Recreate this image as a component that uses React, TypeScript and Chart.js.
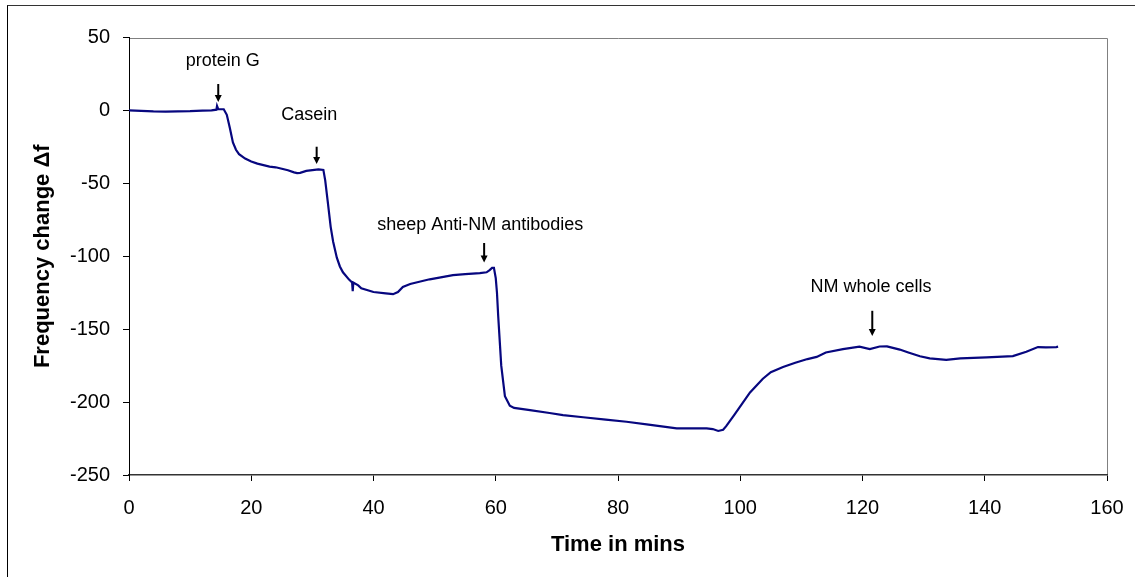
import React, { useEffect, useRef } from "react";
import { Chart, registerables } from "chart.js";

Chart.register(...registerables);

// Frequency shift trace (minutes vs Δf)
const timeMins: number[] = [
  0, 2, 4, 6, 8, 10, 12, 13.5, 14.3, 14.4, 14.6, 15.5, 16, 16.5, 17, 17.5, 18, 19, 20, 21,
  22, 23, 24, 25, 26, 27, 27.5, 28, 29, 30, 31, 31.8, 32.1, 32.5, 33, 33.4, 34, 34.5, 35, 36,
  36.5, 36.6, 36.7, 37.5, 38, 40, 42, 43.2, 44, 44.8, 46, 48, 49.2, 51, 53, 55, 57.4, 58.5, 59,
  59.4, 59.7, 60, 60.2, 60.4, 60.9, 61.5, 62.3, 63, 65.6, 68.8, 71, 74.3, 78, 81.4, 85, 89.6,
  94.5, 95.5, 96.4, 97.2, 97.7, 99, 100, 101.6, 103.7, 105, 107, 109, 111, 112.5, 114, 116.8,
  119.5, 121.2, 122.8, 124, 126.1, 127.5, 129.4, 131, 133.7, 136, 140.3, 144.6, 146.8, 148.7,
  150, 151.7, 152,
];

const freqChange: number[] = [
  0, -0.3, -0.7, -0.8, -0.6, -0.5, -0.2, 0, 0.5, 3, 0.8, 0.8, -3, -12, -22, -27, -30, -33, -35, -36.5,
  -37.5, -38.5, -39, -40, -41, -42.5, -43, -42.8, -41.5, -41, -40.5, -40.8, -48, -62, -80, -90, -101, -107, -111, -116,
  -118, -124, -118, -120, -122, -124.5, -125.5, -126, -124.5, -121, -119, -117, -115.8, -114.5, -113, -112.3, -111.6, -111, -109.5,
  -108, -108, -115, -125, -141, -175, -196, -202.5, -204, -205.5, -207.5, -209, -210.4, -212, -213.5, -215.5, -218,
  -218, -218.5, -219.8, -219, -216.5, -209, -203, -193.4, -184, -179.5, -176, -173, -170.5, -169, -166, -163.7,
  -162, -163.7, -161.9, -161.8, -164, -166, -168.6, -170, -171, -170, -169.3, -168.5, -165.5, -162.3,
  -162.5, -162.3, -162,
];

const xTicks: number[] = [0, 20, 40, 60, 80, 100, 120, 140, 160];
const yTicks: number[] = [50, 0, -50, -100, -150, -200, -250];

// Injection markers: label, label anchor (time, Δf), arrow (time, from Δf, to Δf)
const markerLabels: string[] = ["protein G", "Casein", "sheep Anti-NM antibodies", "NM whole cells"];
const markerLabelTime: number[] = [15.33, 29.5, 57.47, 121.4];
const markerLabelValue: number[] = [33.9, -3.2, -78.6, -121.1];
const markerArrowTime: number[] = [14.6, 30.7, 58.1, 121.6];
const markerArrowFrom: number[] = [18.1, -24.9, -90.9, -137.4];
const markerArrowTo: number[] = [5.8, -36.8, -104.2, -154.6];

const FONT = '"Liberation Sans", Arial, Helvetica, sans-serif';

// Grey top and right edges of the plot box
const plotFrame = {
  id: "plotFrame",
  beforeDraw(chart: any) {
    const { ctx, chartArea } = chart;
    const l = Math.round(chartArea.left);
    const t = Math.round(chartArea.top) + 0.5;
    const r = Math.round(chartArea.right) + 0.5;
    const b = Math.round(chartArea.bottom);
    ctx.save();
    ctx.fillStyle = "#ffffff";
    ctx.fillRect(0, 0, chart.width, chart.height);
    ctx.strokeStyle = "#808080";
    ctx.lineWidth = 1;
    ctx.beginPath();
    ctx.moveTo(l, t);
    ctx.lineTo(r, t);
    ctx.lineTo(r, b);
    ctx.stroke();
    ctx.restore();
  },
};

const markers = {
  id: "markers",
  afterDatasetsDraw(chart: any) {
    const { ctx } = chart;
    const xs = chart.scales.x;
    const ys = chart.scales.y;
    ctx.save();
    ctx.fillStyle = "#000";
    ctx.strokeStyle = "#000";
    ctx.font = `18px ${FONT}`;
    ctx.textAlign = "center";
    ctx.textBaseline = "middle";
    markerLabels.forEach((label, i) => {
      ctx.fillText(label, xs.getPixelForValue(markerLabelTime[i]), ys.getPixelForValue(markerLabelValue[i]));
      const ax = xs.getPixelForValue(markerArrowTime[i]);
      const y0 = ys.getPixelForValue(markerArrowFrom[i]);
      const y1 = ys.getPixelForValue(markerArrowTo[i]);
      const head = 7;
      ctx.lineWidth = 2;
      ctx.beginPath();
      ctx.moveTo(ax, y0);
      ctx.lineTo(ax, y1 - head + 1);
      ctx.stroke();
      ctx.beginPath();
      ctx.moveTo(ax - 3.5, y1 - head);
      ctx.lineTo(ax + 3.5, y1 - head);
      ctx.lineTo(ax, y1);
      ctx.closePath();
      ctx.fill();
    });
    ctx.restore();
  },
};

export default function App() {
  const canvasRef = useRef<HTMLCanvasElement | null>(null);

  useEffect(() => {
    if (!canvasRef.current) return;
    const chart = new Chart(canvasRef.current, {
      type: "line",
      data: {
        datasets: [
          {
            data: timeMins.map((t, i) => ({ x: t, y: freqChange[i] })),
            borderColor: "#07077f",
            borderWidth: 2.2,
            pointRadius: 0,
            tension: 0,
            fill: false,
          },
        ],
      },
      options: {
        animation: false,
        responsive: false,
        devicePixelRatio: 1,
        layout: { padding: { top: 37.5, right: 28, bottom: 0, left: 0 } },
        plugins: { legend: { display: false }, tooltip: { enabled: false } },
        scales: {
          x: {
            type: "linear",
            min: 0,
            max: 160,
            afterBuildTicks: (scale: any) => {
              scale.ticks = xTicks.map((v) => ({ value: v }));
            },
            afterFit: (scale: any) => {
              scale.height = 102;
              scale.paddingLeft = 0;
              scale.paddingRight = 0;
            },
            grid: { drawOnChartArea: false, drawTicks: true, tickLength: 6, color: "#000" },
            border: { display: true, color: "#333", width: 1.5 },
            ticks: { color: "#000", font: { family: FONT, size: 20 }, padding: 15, maxRotation: 0 },
            title: {
              display: true,
              text: "Time in mins",
              color: "#000",
              font: { family: FONT, size: 22, weight: "bold" },
              padding: { top: 0, bottom: 18.8 },
            },
          },
          y: {
            type: "linear",
            min: -250,
            max: 50,
            afterBuildTicks: (scale: any) => {
              scale.ticks = yTicks.map((v) => ({ value: v }));
            },
            afterFit: (scale: any) => {
              scale.width = 129;
              scale.paddingTop = 0;
              scale.paddingBottom = 0;
            },
            grid: { drawOnChartArea: false, drawTicks: true, tickLength: 6, color: "#000" },
            border: { display: true, color: "#000", width: 1 },
            ticks: { color: "#000", font: { family: FONT, size: 20 }, padding: 13 },
            title: {
              display: true,
              text: "Frequency change Δf",
              color: "#000",
              font: { family: FONT, size: 22, weight: "bold" },
              padding: { top: 30, bottom: 0 },
            },
          },
        },
      },
      plugins: [plotFrame, markers],
    });
    return () => chart.destroy();
  }, []);

  return (
    <div
      style={{
        position: "fixed",
        left: 0,
        top: 0,
        width: 1135,
        height: 577,
        overflow: "hidden",
        background: "#fff",
      }}
    >
      <canvas ref={canvasRef} width={1135} height={577} style={{ position: "absolute", left: 0, top: 0 }} />
      <div
        style={{
          position: "absolute",
          left: 7,
          top: 5,
          width: 1400,
          height: 800,
          borderLeft: "1px solid #000",
          borderTop: "1px solid #333",
          pointerEvents: "none",
        }}
      />
    </div>
  );
}
